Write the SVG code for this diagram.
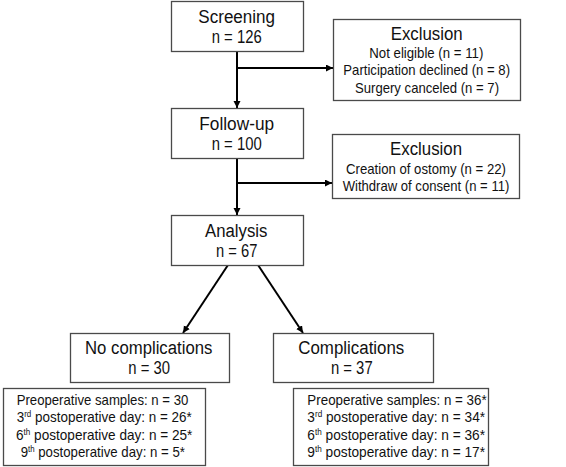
<svg xmlns="http://www.w3.org/2000/svg" width="566" height="467" viewBox="0 0 566 467">
  <defs>
    <marker id="arrow" markerUnits="userSpaceOnUse" markerWidth="8" markerHeight="8" refX="7" refY="3.5" orient="auto">
      <path d="M0,0 L7,3.5 L0,7 Z" fill="#000"/>
    </marker>
    <style>
      .box { fill: #fff; stroke: #4a4a4a; stroke-width: 1.3; }
      .title { font-family: "Liberation Sans", Arial, sans-serif; font-size: 18px; fill: #111; text-anchor: middle; }
      .small { font-family: "Liberation Sans", Arial, sans-serif; font-size: 14.3px; fill: #111; text-anchor: middle; }
      .sup { font-size: 8.5px; }
      .conn { stroke: #000; stroke-width: 2; fill: none; }
    </style>
  </defs>
  <rect width="566" height="467" fill="#fff"/>

  <!-- connectors -->
  <g id="connectors">
    <line class="conn" x1="237" y1="51" x2="237" y2="108" marker-end="url(#arrow)"/>
    <line class="conn" x1="237" y1="68" x2="333" y2="68" marker-end="url(#arrow)"/>
    <line class="conn" x1="237" y1="158" x2="237" y2="215" marker-end="url(#arrow)"/>
    <line class="conn" x1="237" y1="183" x2="332" y2="183" marker-end="url(#arrow)"/>
    <line class="conn" x1="228" y1="265" x2="183" y2="333" marker-end="url(#arrow)"/>
    <line class="conn" x1="258" y1="265" x2="303" y2="333" marker-end="url(#arrow)"/>
  </g>

  <g id="screening">
    <rect class="box" x="171.5" y="1.5" width="132" height="50"/>
    <text class="title" x="236.7" y="23" textLength="76.7" lengthAdjust="spacingAndGlyphs">Screening</text>
    <text class="title" x="236.7" y="43" textLength="50" lengthAdjust="spacingAndGlyphs">n = 126</text>
  </g>

  <g id="exclusion1">
    <rect class="box" x="333.5" y="19.5" width="187" height="81"/>
    <text class="title" x="426.7" y="40" textLength="72" lengthAdjust="spacingAndGlyphs">Exclusion</text>
    <text class="small" x="426.3" y="57.5" textLength="114" lengthAdjust="spacingAndGlyphs">Not eligible (n = 11)</text>
    <text class="small" x="426.7" y="75" textLength="166.7" lengthAdjust="spacingAndGlyphs">Participation declined (n = 8)</text>
    <text class="small" x="427" y="92.5" textLength="144" lengthAdjust="spacingAndGlyphs">Surgery canceled (n = 7)</text>
  </g>

  <g id="followup">
    <rect class="box" x="171.5" y="108.5" width="132" height="50"/>
    <text class="title" x="236.7" y="129.5" textLength="74.7" lengthAdjust="spacingAndGlyphs">Follow-up</text>
    <text class="title" x="236.7" y="149.5" textLength="50" lengthAdjust="spacingAndGlyphs">n = 100</text>
  </g>

  <g id="exclusion2">
    <rect class="box" x="332.5" y="134.5" width="187" height="64"/>
    <text class="title" x="426" y="155" textLength="72" lengthAdjust="spacingAndGlyphs">Exclusion</text>
    <text class="small" x="426" y="173.5" textLength="160" lengthAdjust="spacingAndGlyphs">Creation of ostomy (n = 22)</text>
    <text class="small" x="426" y="190.5" textLength="166.7" lengthAdjust="spacingAndGlyphs">Withdraw of consent (n = 11)</text>
  </g>

  <g id="analysis">
    <rect class="box" x="171.5" y="215.5" width="132" height="50"/>
    <text class="title" x="236.2" y="236.5" textLength="62.3" lengthAdjust="spacingAndGlyphs">Analysis</text>
    <text class="title" x="236.7" y="256.5" textLength="41.3" lengthAdjust="spacingAndGlyphs">n = 67</text>
  </g>

  <g id="no-complications">
    <rect class="box" x="70.5" y="333.5" width="159" height="49"/>
    <text class="title" x="148.7" y="354" textLength="127.3" lengthAdjust="spacingAndGlyphs">No complications</text>
    <text class="title" x="149.2" y="374" textLength="41.7" lengthAdjust="spacingAndGlyphs">n = 30</text>
  </g>

  <g id="complications">
    <rect class="box" x="273.5" y="333.5" width="160" height="49"/>
    <text class="title" x="351.3" y="354" textLength="106" lengthAdjust="spacingAndGlyphs">Complications</text>
    <text class="title" x="351.8" y="374" textLength="41.7" lengthAdjust="spacingAndGlyphs">n = 37</text>
  </g>

  <g id="samples-no-complications">
    <rect class="box" x="3.5" y="388.5" width="202" height="77"/>
    <text class="small" x="102.5" y="405" textLength="171.7" lengthAdjust="spacingAndGlyphs">Preoperative samples: n = 30</text>
    <text class="small" x="104.2" y="422" textLength="175" lengthAdjust="spacingAndGlyphs">3<tspan class="sup" dy="-5">rd</tspan><tspan dy="5"> postoperative day: n = 26*</tspan></text>
    <text class="small" x="104.2" y="439.5" textLength="176.3" lengthAdjust="spacingAndGlyphs">6<tspan class="sup" dy="-5">th</tspan><tspan dy="5"> postoperative day: n = 25*</tspan></text>
    <text class="small" x="102.8" y="457" textLength="164.3" lengthAdjust="spacingAndGlyphs">9<tspan class="sup" dy="-5">th</tspan><tspan dy="5"> postoperative day: n = 5*</tspan></text>
  </g>

  <g id="samples-complications">
    <rect class="box" x="293.5" y="388.5" width="195" height="77"/>
    <text class="small" x="397" y="405" textLength="179.3" lengthAdjust="spacingAndGlyphs">Preoperative samples: n = 36*</text>
    <text class="small" x="396.2" y="422" textLength="177.7" lengthAdjust="spacingAndGlyphs">3<tspan class="sup" dy="-5">rd</tspan><tspan dy="5"> postoperative day: n = 34*</tspan></text>
    <text class="small" x="396.2" y="439.5" textLength="177.7" lengthAdjust="spacingAndGlyphs">6<tspan class="sup" dy="-5">th</tspan><tspan dy="5"> postoperative day: n = 36*</tspan></text>
    <text class="small" x="396.2" y="457" textLength="177.7" lengthAdjust="spacingAndGlyphs">9<tspan class="sup" dy="-5">th</tspan><tspan dy="5"> postoperative day: n = 17*</tspan></text>
  </g>
</svg>
